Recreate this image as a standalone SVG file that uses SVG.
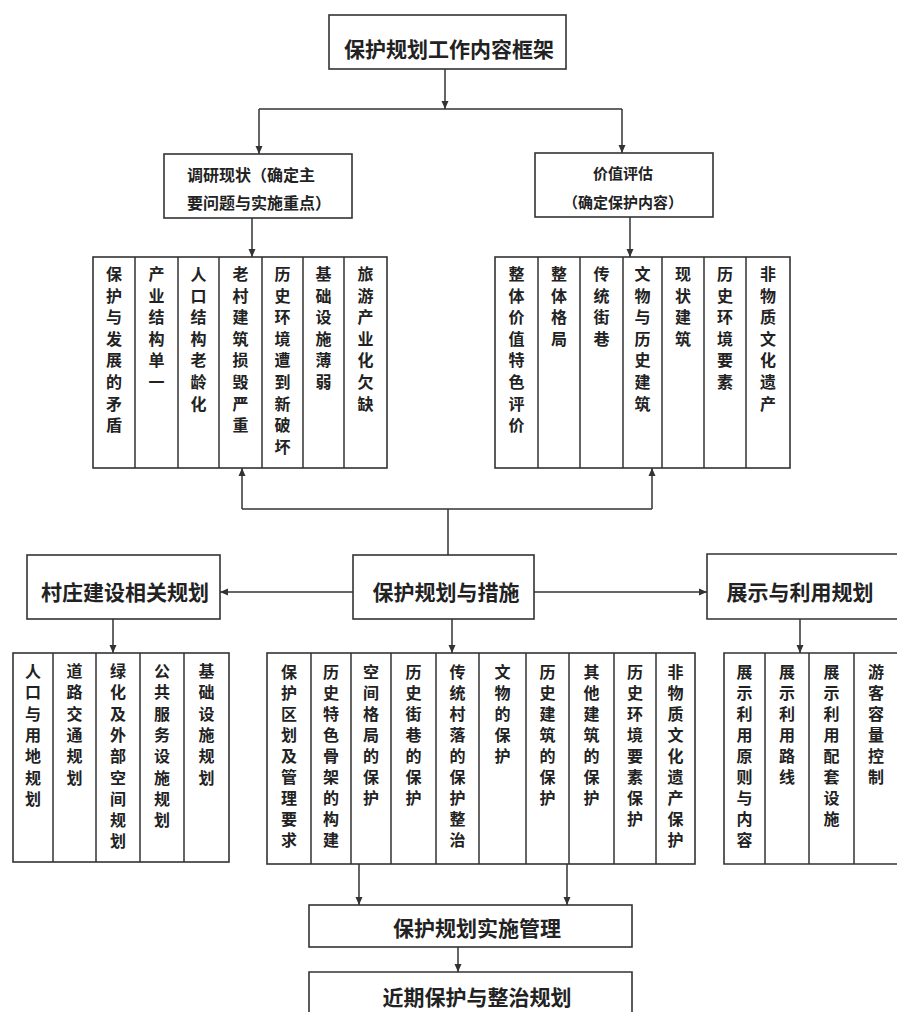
<svg xmlns="http://www.w3.org/2000/svg" width="897" height="1012" viewBox="0 0 897 1012">
<defs>
<style>
.box{fill:#fff;stroke:#333;stroke-width:1.6}
.ln{fill:none;stroke:#333;stroke-width:1.5}
.dv{stroke:#333;stroke-width:1.5}
text{font-family:"Noto Sans CJK SC","Noto Sans CJK JP",sans-serif;font-weight:700;fill:#222}
.c{font-size:16px;text-anchor:middle}
.t{font-size:21px;text-anchor:middle}
</style>
<marker id="ah" markerUnits="userSpaceOnUse" markerWidth="8" markerHeight="8" refX="8" refY="4" orient="auto"><path d="M0,0.5 L8,4 L0,7.5 z" fill="#333"/></marker>
</defs>
<rect x="0" y="0" width="897" height="1012" fill="#fff"/>

<g id="connectors">
<path class="ln" d="M445,69 V109" marker-end="url(#ah)"/>
<path class="ln" d="M259,109 H622"/>
<path class="ln" d="M259,109 V154" marker-end="url(#ah)"/>
<path class="ln" d="M622,109 V153" marker-end="url(#ah)"/>
<path class="ln" d="M252,218 V257" marker-end="url(#ah)"/>
<path class="ln" d="M630,217 V257" marker-end="url(#ah)"/>
<path class="ln" d="M448,555 V509"/>
<path class="ln" d="M242,509 H652"/>
<path class="ln" d="M242,509 V468" marker-end="url(#ah)"/>
<path class="ln" d="M652,509 V468" marker-end="url(#ah)"/>
<path class="ln" d="M353,592 H220" marker-end="url(#ah)"/>
<path class="ln" d="M534,592 H707" marker-end="url(#ah)"/>
<path class="ln" d="M113,619 V653" marker-end="url(#ah)"/>
<path class="ln" d="M452,619 V653" marker-end="url(#ah)"/>
<path class="ln" d="M800,619 V653" marker-end="url(#ah)"/>
<path class="ln" d="M359,864 V905" marker-end="url(#ah)"/>
<path class="ln" d="M567,864 V905" marker-end="url(#ah)"/>
<path class="ln" d="M458,947 V972" marker-end="url(#ah)"/>
</g>

<g id="title">
<rect class="box" x="329" y="15" width="237" height="54"/>
<text class="t" x="449" y="57">保护规划工作内容框架</text>
</g>

<g id="survey">
<rect class="box" x="164" y="154" width="188" height="64"/>
<text x="187" y="181" font-size="16">调研现状（确定主</text>
<text x="187" y="209" font-size="16">要问题与实施重点）</text>
</g>

<g id="value">
<rect class="box" x="535" y="153" width="178" height="64"/>
<text x="623" y="179" font-size="15" text-anchor="middle">价值评估</text>
<text x="623" y="208" font-size="15" text-anchor="middle">（确定保护内容）</text>
</g>

<g id="problems">
<rect class="box" x="93" y="257" width="294" height="211"/>
<path class="dv" d="M135,257 V468 M178,257 V468 M219,257 V468 M262,257 V468 M303,257 V468 M344,257 V468"/>
<text class="c" x="114 114 114 114 114 114 114 114" y="280 301.6 323.2 344.8 366.4 388 409.6 431.2">保护与发展的矛盾</text>
<text class="c" x="156.5 156.5 156.5 156.5 156.5 156.5" y="280 301.6 323.2 344.8 366.4 388">产业结构单一</text>
<text class="c" x="198.5 198.5 198.5 198.5 198.5 198.5 198.5" y="280 301.6 323.2 344.8 366.4 388 409.6">人口结构老龄化</text>
<text class="c" x="240.5 240.5 240.5 240.5 240.5 240.5 240.5 240.5" y="280 301.6 323.2 344.8 366.4 388 409.6 431.2">老村建筑损毁严重</text>
<text class="c" x="282.5 282.5 282.5 282.5 282.5 282.5 282.5 282.5 282.5" y="280 301.6 323.2 344.8 366.4 388 409.6 431.2 452.8">历史环境遭到新破坏</text>
<text class="c" x="323.5 323.5 323.5 323.5 323.5 323.5" y="280 301.6 323.2 344.8 366.4 388">基础设施薄弱</text>
<text class="c" x="365.5 365.5 365.5 365.5 365.5 365.5 365.5" y="280 301.6 323.2 344.8 366.4 388 409.6">旅游产业化欠缺</text>
</g>

<g id="values">
<rect class="box" x="495" y="257" width="295" height="211"/>
<path class="dv" d="M538,257 V468 M580,257 V468 M623,257 V468 M662,257 V468 M704,257 V468 M746,257 V468"/>
<text class="c" x="516.5 516.5 516.5 516.5 516.5 516.5 516.5 516.5" y="280 301.6 323.2 344.8 366.4 388 409.6 431.2">整体价值特色评价</text>
<text class="c" x="559 559 559 559" y="280 301.6 323.2 344.8">整体格局</text>
<text class="c" x="601.5 601.5 601.5 601.5" y="280 301.6 323.2 344.8">传统街巷</text>
<text class="c" x="642.5 642.5 642.5 642.5 642.5 642.5 642.5" y="280 301.6 323.2 344.8 366.4 388 409.6">文物与历史建筑</text>
<text class="c" x="683 683 683 683" y="280 301.6 323.2 344.8">现状建筑</text>
<text class="c" x="725 725 725 725 725 725" y="280 301.6 323.2 344.8 366.4 388">历史环境要素</text>
<text class="c" x="768 768 768 768 768 768 768" y="280 301.6 323.2 344.8 366.4 388 409.6">非物质文化遗产</text>
</g>

<g id="village">
<rect class="box" x="27" y="555" width="193" height="64"/>
<text class="t" x="125" y="599.5">村庄建设相关规划</text>
</g>

<g id="measures">
<rect class="box" x="353" y="555" width="181" height="64"/>
<text class="t" x="446" y="599.5">保护规划与措施</text>
</g>

<g id="display">
<path class="box" d="M899,554 H707 V619 H899"/>
<text class="t" x="800" y="599.5">展示与利用规划</text>
</g>

<g id="village-items">
<rect class="box" x="13" y="653" width="216" height="209"/>
<path class="dv" d="M53,653 V862 M96,653 V862 M140,653 V862 M184,653 V862"/>
<text class="c" x="33 33 33 33 33 33 33" y="677 698.3 719.6 740.9 762.2 783.5 804.8">人口与用地规划</text>
<text class="c" x="74.5 74.5 74.5 74.5 74.5 74.5" y="677 698.3 719.6 740.9 762.2 783.5">道路交通规划</text>
<text class="c" x="118 118 118 118 118 118 118 118 118" y="677 698.3 719.6 740.9 762.2 783.5 804.8 826.1 847.4">绿化及外部空间规划</text>
<text class="c" x="162 162 162 162 162 162 162 162" y="677 698.3 719.6 740.9 762.2 783.5 804.8 826.1">公共服务设施规划</text>
<text class="c" x="206.5 206.5 206.5 206.5 206.5 206.5" y="677 698.3 719.6 740.9 762.2 783.5">基础设施规划</text>
</g>

<g id="measure-items">
<rect class="box" x="267" y="653" width="428" height="211"/>
<path class="dv" d="M311,653 V864 M351,653 V864 M391,653 V864 M436,653 V864 M479,653 V864 M526,653 V864 M569,653 V864 M614,653 V864 M656,653 V864"/>
<text class="c" x="289 289 289 289 289 289 289 289 289" y="678 699 720 741 762 783 804 825 846">保护区划及管理要求</text>
<text class="c" x="331 331 331 331 331 331 331 331 331" y="678 699 720 741 762 783 804 825 846">历史特色骨架的构建</text>
<text class="c" x="371 371 371 371 371 371 371" y="678 699 720 741 762 783 804">空间格局的保护</text>
<text class="c" x="413.5 413.5 413.5 413.5 413.5 413.5 413.5" y="678 699 720 741 762 783 804">历史街巷的保护</text>
<text class="c" x="457.5 457.5 457.5 457.5 457.5 457.5 457.5 457.5 457.5" y="678 699 720 741 762 783 804 825 846">传统村落的保护整治</text>
<text class="c" x="502.5 502.5 502.5 502.5 502.5" y="678 699 720 741 762">文物的保护</text>
<text class="c" x="547.5 547.5 547.5 547.5 547.5 547.5 547.5" y="678 699 720 741 762 783 804">历史建筑的保护</text>
<text class="c" x="591.5 591.5 591.5 591.5 591.5 591.5 591.5" y="678 699 720 741 762 783 804">其他建筑的保护</text>
<text class="c" x="635 635 635 635 635 635 635 635" y="678 699 720 741 762 783 804 825">历史环境要素保护</text>
<text class="c" x="675.5 675.5 675.5 675.5 675.5 675.5 675.5 675.5 675.5" y="678 699 720 741 762 783 804 825 846">非物质文化遗产保护</text>
</g>

<g id="display-items">
<path class="box" d="M899,653 H724 V864 H899"/>
<path class="dv" d="M765,653 V864 M809,653 V864 M854,653 V864"/>
<text class="c" x="744.5 744.5 744.5 744.5 744.5 744.5 744.5 744.5 744.5" y="678 699 720 741 762 783 804 825 846">展示利用原则与内容</text>
<text class="c" x="787 787 787 787 787 787" y="678 699 720 741 762 783">展示利用路线</text>
<text class="c" x="831.5 831.5 831.5 831.5 831.5 831.5 831.5 831.5" y="678 699 720 741 762 783 804 825">展示利用配套设施</text>
<text class="c" x="876 876 876 876 876 876" y="678 699 720 741 762 783">游客容量控制</text>
</g>

<g id="implementation">
<rect class="box" x="309" y="905" width="323" height="42"/>
<text class="t" x="477" y="936">保护规划实施管理</text>
</g>

<g id="near-term">
<path class="box" d="M309,1014 V972 H632 V1014"/>
<text class="t" x="477" y="1004.5">近期保护与整治规划</text>
</g>
</svg>
